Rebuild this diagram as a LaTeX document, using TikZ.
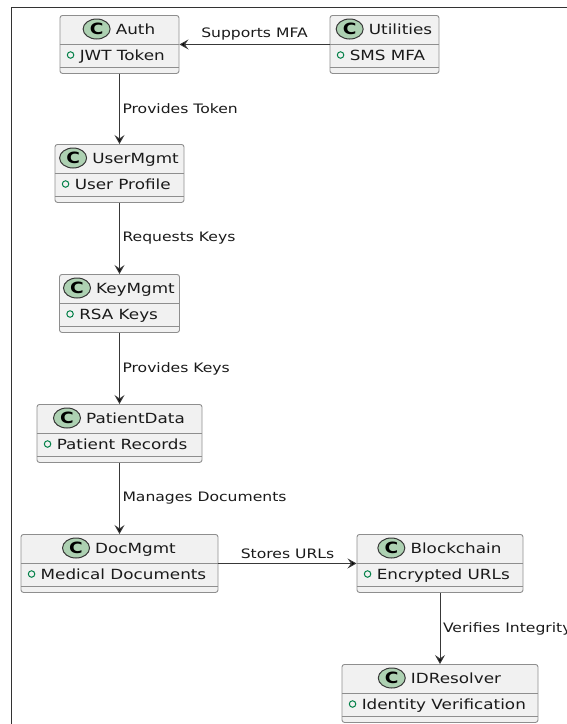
\documentclass[tikz,border=0pt]{standalone}
\usepackage{fontspec}
\newfontfamily\umlfont[FakeStretch=1.2]{DejaVu Sans}
\usetikzlibrary{arrows.meta,positioning,shapes.geometric}

\definecolor{boxfill}{HTML}{F1F1F1}
\definecolor{boxline}{HTML}{8E8E8E}
\definecolor{spotfill}{HTML}{ADD1B2}
\definecolor{attrgreen}{HTML}{038048}
\definecolor{linkcol}{HTML}{383838}
\definecolor{textcol}{HTML}{1A1A1A}

\tikzstyle{classbox} = [draw=boxline, fill=boxfill, rectangle, rounded corners=2.5pt, minimum height=58pt, inner sep=0pt, line width=0.9pt]
\tikzstyle{divline}  = [draw=boxline, line width=0.9pt]
\tikzstyle{spotc}    = [draw=linkcol, fill=spotfill, ellipse, minimum width=27pt, minimum height=20pt, inner sep=0pt, line width=1pt, text=black, font=\umlfont\fontsize{15.5}{15.5}\selectfont\bfseries]
\tikzstyle{cname}    = [inner sep=0pt, anchor=base, text=textcol, font=\umlfont\fontsize{14}{16}\selectfont]
\tikzstyle{attrtext} = [inner sep=0pt, anchor=base west, text=textcol, font=\umlfont\fontsize{14}{16}\selectfont]
\tikzstyle{attrdot}  = [circle, draw=attrgreen, line width=1pt, minimum size=6.5pt, inner sep=0pt]
\tikzstyle{rel}      = [draw=linkcol, line width=1pt, -{Stealth[length=9pt,width=10pt,inset=3.5pt]}]
\tikzstyle{rlabel}   = [inner sep=0pt, text=textcol, font=\umlfont\fontsize{13}{15}\selectfont]

\newcommand{\umlclass}[6]{%
  \node at (#2,#3) (#1) [classbox, minimum width=#4pt, anchor=north] {};
  \draw[divline] ([yshift=-29.5pt]#1.north west) -- ([yshift=-29.5pt]#1.north east);
  \draw[divline] ([yshift=-52pt]#1.north west) -- ([yshift=-52pt]#1.north east);
  \node at ([xshift=16pt,yshift=-19pt]#1.north) (#1-n) [cname] {#5};
  \node at ([xshift=-5pt,yshift=5pt]#1-n.base west) (#1-c) [spotc, anchor=east] {C};
  \node at ([xshift=11pt,yshift=-40pt]#1.north west) (#1-d) [attrdot] {};
  \node at ([xshift=20pt,yshift=-45pt]#1.north west) (#1-a) [attrtext] {#6};
}

\begin{document}
\begin{tikzpicture}[x=1pt, y=-1pt]
  \useasboundingbox (0,0) rectangle (567,724);
  \clip (0,0) rectangle (567,724);
  \draw[line width=1.6pt, draw=black!80] (11.5,740) -- (11.5,7.5) -- (580,7.5);

  \umlclass{auth}{119.5}{15}{119}{Auth}{JWT Token}
  \umlclass{utilities}{384.5}{15}{109}{Utilities}{SMS MFA}
  \umlclass{usermgmt}{119.5}{144}{129}{UserMgmt}{User Profile}
  \umlclass{keymgmt}{119.5}{274}{120}{KeyMgmt}{RSA Keys}
  \umlclass{patientdata}{119.5}{404}{165}{PatientData}{Patient Records}
  \umlclass{docmgmt}{119.5}{534}{197}{DocMgmt}{Medical Documents}
  \umlclass{blockchain}{440}{534}{166}{Blockchain}{Encrypted URLs}
  \umlclass{idresolver}{440}{664}{196}{IDResolver}{Identity Verification}

  \path[rel] (utilities) edge node[rlabel, above=4pt] {Supports MFA} (auth);
  \path[rel] (auth) edge node[rlabel, right=2.5pt] {Provides Token} (usermgmt);
  \path[rel] (usermgmt) edge node[rlabel, right=2.5pt] {Requests Keys} (keymgmt);
  \path[rel] (keymgmt) edge node[rlabel, right=2.5pt] {Provides Keys} (patientdata);
  \path[rel] (patientdata) edge node[rlabel, right=2.5pt] {Manages Documents} (docmgmt);
  \path[rel] (docmgmt) edge node[rlabel, above=4pt] {Stores URLs} (blockchain);
  \path[rel] (blockchain) edge node[rlabel, right=2.5pt] {Verifies Integrity} (idresolver);
\end{tikzpicture}
\end{document}
